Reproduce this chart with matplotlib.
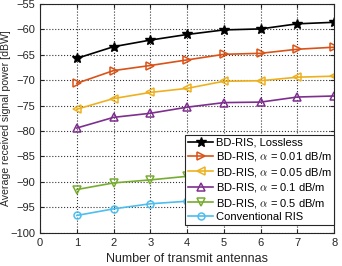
import numpy as np
import matplotlib.pyplot as plt

plt.rcParams['font.family'] = ['Liberation Sans', 'DejaVu Sans']
plt.rcParams['mathtext.fontset'] = 'cm'

# Data
n_ant = [1, 2, 3, 4, 5, 6, 7, 8]
lossless = [-65.7, -63.4, -62.1, -61.0, -60.1, -59.9, -58.9, -58.6]
a001 = [-70.6, -68.1, -67.1, -66.0, -64.9, -64.7, -63.9, -63.5]
a005 = [-75.7, -73.6, -72.4, -71.6, -70.2, -70.1, -69.4, -69.2]
a01 = [-79.4, -77.3, -76.5, -75.3, -74.4, -74.3, -73.3, -73.1]
a05 = [-91.5, -90.2, -89.6, -88.9, -88.2, -87.9, -87.3, -86.9]
conv = [-96.6, -95.3, -94.3, -93.8, -93.2, -92.9, -92.4, -92.1]

fig, ax = plt.subplots(figsize=(3.42, 2.66), dpi=100)

ax.plot(n_ant, lossless, '-*', color='k', ms=7, lw=1.2, label='BD-RIS, Lossless')
ax.plot(n_ant, a001, '->', color='#D95319', ms=5.5, mfc='none', mew=1.1, lw=1.2,
        label=r'BD-RIS, $\alpha$ = 0.01 dB/m')
ax.plot(n_ant, a005, '-<', color='#EDB120', ms=5.5, mfc='none', mew=1.1, lw=1.2,
        label=r'BD-RIS, $\alpha$ = 0.05 dB/m')
ax.plot(n_ant, a01, '-^', color='#7E2F8E', ms=5.5, mfc='none', mew=1.1, lw=1.2,
        label=r'BD-RIS, $\alpha$ = 0.1 dB/m')
ax.plot(n_ant, a05, '-v', color='#77AC30', ms=5.5, mfc='none', mew=1.1, lw=1.2,
        label=r'BD-RIS, $\alpha$ = 0.5 dB/m')
ax.plot(n_ant, conv, '-o', color='#4DBEEE', ms=5, mfc='none', mew=1.1, lw=1.2,
        label='Conventional RIS')

ax.set_xlim(0, 8)
ax.set_ylim(-100, -55)
ax.set_xticks(range(0, 9))
ax.set_yticks(range(-100, -54, 5))
ax.tick_params(direction='in', labelsize=8, length=3, top=True, right=True,
               colors='#262626')
for s in ax.spines.values():
    s.set_color('#262626')
ax.grid(True, linestyle=':', color='k', lw=0.8, alpha=0.8)
ax.set_xlabel('Number of transmit antennas', fontsize=9, color='#262626')
ax.set_ylabel('Average received signal power [dBW]', fontsize=7.6, color='#262626')
ax.yaxis.set_label_coords(-0.097, 0.5)

leg = ax.legend(loc='lower right', bbox_to_anchor=(1.0, 0.035), fontsize=8,
                fancybox=False, framealpha=1, edgecolor='#262626', borderpad=0.25,
                labelspacing=0.22, handlelength=2.3, handletextpad=0.2,
                borderaxespad=0)
leg.get_frame().set_linewidth(0.8)

plt.subplots_adjust(left=0.117, right=0.977, top=0.985, bottom=0.125)
plt.savefig('out.png', dpi=100)
